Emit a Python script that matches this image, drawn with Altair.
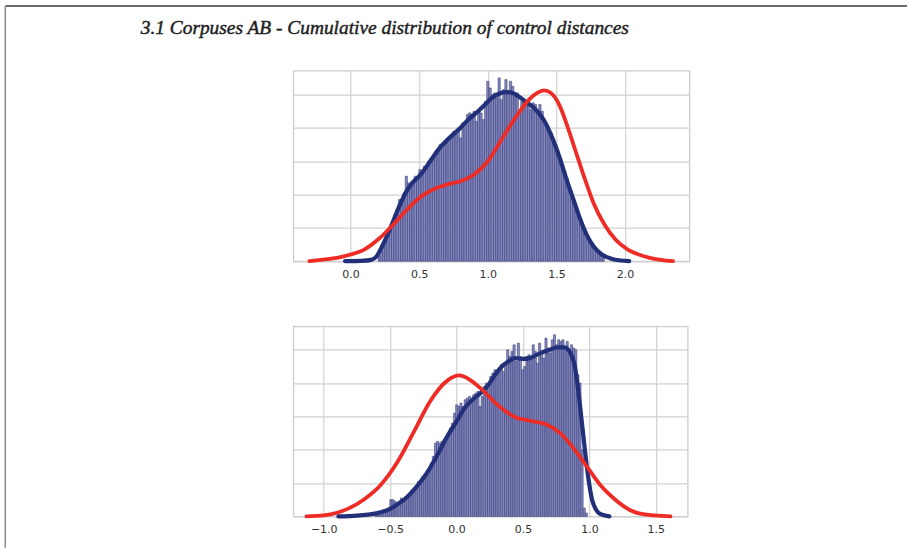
import altair as alt
import numpy as np
import pandas as pd

TITLE = "3.1 Corpuses AB - Cumulative distribution of control distances"

# ---------------- upper panel ----------------
top_bin_start = 0.20
top_bin_width = 0.0165
top_hist = [
    0.03, 0.06, 0.11, 0.12, 0.18, 0.21, 0.22, 0.28, 0.31, 0.37,
    0.36, 0.41, 0.51, 0.47, 0.44, 0.48, 0.51, 0.50, 0.55, 0.53,
    0.57, 0.56, 0.60, 0.62, 0.61, 0.66, 0.65, 0.70, 0.68, 0.72,
    0.71, 0.75, 0.74, 0.78, 0.76, 0.80, 0.74, 0.83, 0.82, 0.88,
    0.89, 0.86, 0.90, 0.84, 0.91, 0.89, 0.85, 0.96, 1.08, 1.04,
    1.00, 1.01, 0.98, 1.10, 0.97, 1.03, 1.09, 1.02, 1.08, 1.05,
    0.99, 1.01, 0.90, 0.96, 0.97, 0.94, 0.96, 0.91, 0.95, 0.94,
    0.88, 0.94, 0.90, 0.84, 0.80, 0.78, 0.77, 0.72, 0.70, 0.66,
    0.62, 0.56, 0.54, 0.50, 0.45, 0.40, 0.36, 0.33, 0.28, 0.25,
    0.21, 0.19, 0.14, 0.12, 0.09, 0.08, 0.06, 0.04, 0.03, 0.02,
]
top_blue_x = [-0.04, 0.08, 0.15, 0.19, 0.23, 0.27, 0.31, 0.35, 0.40, 0.45,
              0.51, 0.58, 0.65, 0.72, 0.80, 0.87, 0.93, 0.98, 1.03, 1.08,
              1.13, 1.18, 1.23, 1.28, 1.33, 1.38, 1.42, 1.47, 1.52, 1.57,
              1.62, 1.67, 1.72, 1.77, 1.83, 1.90, 1.97, 2.03]
top_blue_y = [0.00, 0.002, 0.008, 0.03, 0.09, 0.16, 0.24, 0.32, 0.41, 0.47,
              0.52, 0.60, 0.68, 0.74, 0.80, 0.86, 0.90, 0.94, 0.98, 1.005,
              1.015, 1.01, 0.985, 0.955, 0.925, 0.88, 0.83, 0.74, 0.63, 0.50,
              0.38, 0.26, 0.16, 0.09, 0.04, 0.015, 0.004, 0.00]
top_red_x = [-0.30, -0.20, -0.10, 0.00, 0.10, 0.20, 0.30, 0.40, 0.50, 0.60,
             0.70, 0.80, 0.90, 1.00, 1.10, 1.20, 1.30, 1.36, 1.41, 1.46,
             1.52, 1.58, 1.64, 1.70, 1.77, 1.85, 1.93, 2.02, 2.10, 2.18,
             2.26, 2.35]
top_red_y = [0.00, 0.01, 0.02, 0.04, 0.07, 0.13, 0.21, 0.30, 0.38, 0.43,
             0.46, 0.48, 0.52, 0.60, 0.73, 0.86, 0.97, 1.01, 1.025, 1.01,
             0.94, 0.81, 0.66, 0.51, 0.35, 0.22, 0.13, 0.07, 0.04, 0.02,
             0.008, 0.00]
top_domain = [-0.417, 2.469]
top_ticks = [0.0, 0.5, 1.0, 1.5, 2.0]

# ---------------- lower panel ----------------
bot_bin_start = -0.615
bot_bin_width = 0.016
bot_hist = [
    0.01, 0.01, 0.02, 0.02, 0.04, 0.03, 0.05, 0.10, 0.10, 0.09,
    0.08, 0.09, 0.11, 0.10, 0.12, 0.13, 0.14, 0.16, 0.17, 0.18,
    0.21, 0.20, 0.24, 0.23, 0.27, 0.28, 0.32, 0.36, 0.44, 0.45,
    0.44, 0.45, 0.46, 0.47, 0.50, 0.53, 0.56, 0.62, 0.67, 0.66,
    0.68, 0.66, 0.70, 0.71, 0.72, 0.70, 0.73, 0.74, 0.75, 0.66,
    0.72, 0.78, 0.80, 0.79, 0.84, 0.86, 0.88, 0.87, 0.89, 0.91,
    0.87, 0.92, 1.00, 0.96, 0.99, 1.03, 0.93, 1.04, 0.96, 0.88,
    0.90, 0.96, 0.97, 0.95, 1.03, 0.99, 0.92, 1.04, 0.98, 0.95,
    1.07, 1.01, 0.98, 1.06, 1.09, 1.03, 1.06, 1.05, 1.06, 1.02,
    1.05, 0.98, 1.03, 1.01, 1.00, 0.85, 0.80, 0.40, 0.05, 0.02,
]
bot_blue_x = [-0.89, -0.75, -0.65, -0.57, -0.50, -0.45, -0.38, -0.32, -0.25, -0.20,
              -0.13, -0.07, 0.00, 0.06, 0.12, 0.18, 0.24, 0.29, 0.34, 0.39,
              0.44, 0.50, 0.55, 0.63, 0.70, 0.76, 0.81, 0.85, 0.89, 0.93,
              0.96, 0.99, 1.02, 1.05, 1.08, 1.15]
bot_blue_y = [0.00, 0.005, 0.012, 0.025, 0.045, 0.07, 0.11, 0.16, 0.23, 0.29,
              0.39, 0.48, 0.57, 0.65, 0.70, 0.74, 0.79, 0.85, 0.90, 0.93,
              0.95, 0.945, 0.95, 0.98, 1.00, 1.015, 1.015, 0.99, 0.90, 0.66,
              0.44, 0.24, 0.10, 0.04, 0.015, 0.00]
bot_red_x = [-1.13, -1.00, -0.90, -0.82, -0.70, -0.57, -0.45, -0.32, -0.20, -0.07,
             0.02, 0.10, 0.20, 0.30, 0.43, 0.55, 0.68, 0.78, 0.88, 0.98,
             1.08, 1.18, 1.30, 1.43, 1.61]
bot_red_y = [0.00, 0.006, 0.022, 0.045, 0.10, 0.19, 0.32, 0.51, 0.69, 0.815,
             0.846, 0.82, 0.755, 0.675, 0.60, 0.574, 0.55, 0.50, 0.41, 0.30,
             0.19, 0.11, 0.04, 0.01, 0.00]
bot_domain = [-1.229, 1.740]
bot_ticks = [-1.0, -0.5, 0.0, 0.5, 1.0, 1.5]

GRID_Y = [0.0, 0.2, 0.4, 0.6, 0.8, 1.0]
HIST_FILL = "#8489c4"
HIST_EDGE = "#2a2f62"
BLUE = "#22307a"
RED = "#ee2b24"
GRID = "#d2d2d2"


def bins_frame(start, width, heights):
    lo = start + width * np.arange(len(heights))
    return pd.DataFrame({"lo": lo, "hi": lo + width, "base": 0.0,
                         "density": heights})


def panel(bins, blue_x, blue_y, red_x, red_y, domain, ticks, ymax, w, h):
    x_axis = alt.Axis(values=ticks, format=".1f", grid=True, gridColor=GRID,
                      gridWidth=1.2, ticks=False, tickSize=0, domain=False,
                      labelPadding=7.5, labelFont="DejaVu Sans",
                      labelFontSize=11, labelColor="#333333", title=None)
    y_axis = alt.Axis(values=GRID_Y, grid=True, gridColor=GRID, gridWidth=1.2,
                      labels=False, ticks=False, domain=False, title=None)
    xs = alt.Scale(domain=domain, nice=False, zero=False)
    ys = alt.Scale(domain=[0, ymax], nice=False)

    hist = alt.Chart(bins).mark_rect(
        fill=HIST_FILL, stroke=HIST_EDGE, strokeWidth=0.5
    ).encode(
        x=alt.X("lo:Q", scale=xs, axis=x_axis),
        x2="hi:Q",
        y=alt.Y("density:Q", scale=ys, axis=y_axis),
        y2="base:Q",
    )
    blue = alt.Chart(pd.DataFrame({"lo": blue_x, "density": blue_y})).mark_line(
        color=BLUE, strokeWidth=4.2, interpolate="monotone", strokeCap="round"
    ).encode(
        x=alt.X("lo:Q", scale=xs, axis=x_axis),
        y=alt.Y("density:Q", scale=ys, axis=y_axis),
    )
    red = alt.Chart(pd.DataFrame({"lo": red_x, "density": red_y})).mark_line(
        color=RED, strokeWidth=3.8, interpolate="monotone", strokeCap="round"
    ).encode(
        x=alt.X("lo:Q", scale=xs, axis=x_axis),
        y=alt.Y("density:Q", scale=ys, axis=y_axis),
    )
    return hist, blue, red, (w, h)


one = pd.DataFrame({"t": [TITLE]})

# Page heading and the page frame, placed relative to the upper plot area
heading = alt.Chart(one).mark_text(
    align="left", baseline="alphabetic", font="Liberation Serif",
    fontStyle="italic", fontSize=19.4, color="#1e1e1e",
    stroke="#1e1e1e", strokeWidth=0.45
).encode(x=alt.value(-152.7), y=alt.value(-36.8), text="t:N")

frame_top = alt.Chart(one).mark_rule(color="#3a3a3a", strokeWidth=1.5).encode(
    x=alt.value(-288.2), x2=alt.value(614.0), y=alt.value(-64.7)
)
frame_left = alt.Chart(one).mark_rule(color="#8a8a8a", strokeWidth=1.5).encode(
    x=alt.value(-288.2), y=alt.value(-64.7), y2=alt.value(477.5)
)

h1, b1, r1, (w1, hh1) = panel(
    bins_frame(top_bin_start, top_bin_width, top_hist),
    top_blue_x, top_blue_y, top_red_x, top_red_y,
    top_domain, top_ticks, 1.144, 396.3, 190.7,
)
h2, b2, r2, (w2, hh2) = panel(
    bins_frame(bot_bin_start, bot_bin_width, bot_hist),
    bot_blue_x, bot_blue_y, bot_red_x, bot_red_y,
    bot_domain, bot_ticks, 1.14, 394.6, 190.0,
)

upper = alt.layer(h1, b1, r1, heading, frame_top, frame_left).properties(
    width=w1, height=hh1
)
lower = alt.layer(h2, b2, r2).properties(width=w2, height=hh2)

chart = (
    alt.vconcat(upper, lower, spacing=65, bounds="flush")
    .resolve_scale(x="independent", y="independent")
    .properties(
        padding={"left": 3.5, "top": 3.5, "right": 0, "bottom": 0},
        background="white",
    )
    .configure_view(stroke="#cccccc", strokeWidth=1.3)
)

chart.save("out.html", embed_options={"renderer": "svg", "actions": False})
